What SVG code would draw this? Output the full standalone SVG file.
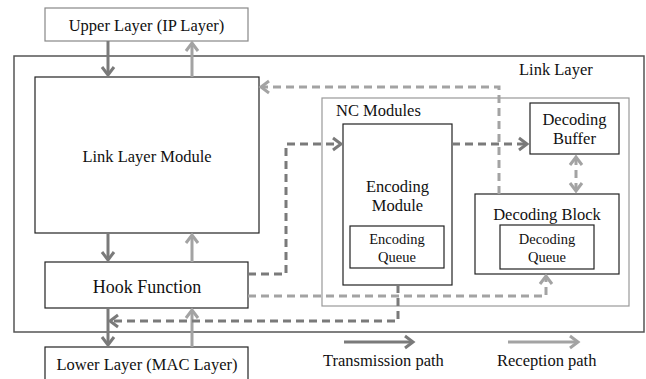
<svg xmlns="http://www.w3.org/2000/svg" width="646" height="379" viewBox="0 0 646 379" font-family="'Liberation Serif', 'DejaVu Serif', serif">
<defs>
<style>
text{fill:#111;}
.box{fill:#fff;stroke:#222;stroke-width:1.2;}
.t{stroke:#7a7a7a;stroke-width:3;fill:none;}
.r{stroke:#a3a3a3;stroke-width:3;fill:none;}
.d{stroke-dasharray:8,5;}
</style>
<marker id="at" markerUnits="userSpaceOnUse" markerWidth="16" markerHeight="16" viewBox="-10 -8 12 16" refX="0" refY="0" orient="auto-start-reverse">
<path d="M-8,-6 L0,0 L-8,6" fill="none" stroke="#7a7a7a" stroke-width="3"/>
</marker>
<marker id="ar" markerUnits="userSpaceOnUse" markerWidth="16" markerHeight="16" viewBox="-10 -8 12 16" refX="0" refY="0" orient="auto-start-reverse">
<path d="M-8,-6 L0,0 L-8,6" fill="none" stroke="#a3a3a3" stroke-width="3"/>
</marker>
</defs>
<rect width="646" height="379" fill="#fff"/>

<g id="link-layer">
<rect x="14" y="56" width="630" height="276" fill="#fff" stroke="#555" stroke-width="1.5"/>
<text x="519" y="75" font-size="16.5">Link Layer</text>
</g>
<g id="nc-modules">
<rect x="322" y="98" width="307" height="208" fill="none" stroke="#999" stroke-width="1.2"/>
<text x="336" y="116" font-size="16.5">NC Modules</text>
</g>
<g id="upper-layer">
<rect x="45" y="8" width="203" height="33" fill="#fff" stroke="#888" stroke-width="1.2"/>
<text x="146.5" y="31" font-size="16.5" text-anchor="middle">Upper Layer (IP Layer)</text>
</g>
<g id="link-layer-module">
<rect class="box" x="35" y="77" width="224" height="156"/>
<text x="147" y="162" font-size="16.5" text-anchor="middle">Link Layer Module</text>
</g>
<g id="hook-function">
<rect class="box" x="45" y="262" width="203" height="46"/>
<text x="147" y="293" font-size="18" text-anchor="middle">Hook Function</text>
</g>
<g id="lower-layer">
<rect class="box" x="45" y="347" width="203" height="34"/>
<text x="147" y="370" font-size="16.5" text-anchor="middle">Lower Layer (MAC Layer)</text>
</g>
<g id="encoding-module">
<rect class="box" x="343" y="124" width="109" height="161"/>
<text x="397.5" y="192" font-size="16.5" text-anchor="middle">Encoding</text>
<text x="397.5" y="211" font-size="16.5" text-anchor="middle">Module</text>
</g>
<g id="encoding-queue">
<rect class="box" x="350" y="226" width="94" height="42"/>
<text x="397" y="244" font-size="14.5" text-anchor="middle">Encoding</text>
<text x="397" y="262" font-size="14.5" text-anchor="middle">Queue</text>
</g>
<g id="decoding-buffer">
<rect class="box" x="530" y="103" width="89" height="51"/>
<text x="574.5" y="125" font-size="16.5" text-anchor="middle">Decoding</text>
<text x="574.5" y="144" font-size="16.5" text-anchor="middle">Buffer</text>
</g>
<g id="decoding-block">
<rect class="box" x="475" y="194" width="144" height="80"/>
<text x="547" y="220" font-size="16.5" text-anchor="middle">Decoding Block</text>
</g>
<g id="decoding-queue">
<rect class="box" x="500" y="225" width="94" height="44"/>
<text x="547" y="244" font-size="14.5" text-anchor="middle">Decoding</text>
<text x="547" y="262" font-size="14.5" text-anchor="middle">Queue</text>
</g>

<g id="connectors">
<path class="t" d="M108,41 V75" marker-end="url(#at)"/>
<path class="r" d="M192,77 V43" marker-end="url(#ar)"/>
<path class="t" d="M108,233 V260" marker-end="url(#at)"/>
<path class="r" d="M192,262 V235" marker-end="url(#ar)"/>
<path class="t" d="M108,308 V345" marker-end="url(#at)"/>
<path class="r" d="M192,347 V310" marker-end="url(#ar)"/>
<path class="t d" d="M248,274 H286 V144 H341" marker-end="url(#at)"/>
<path class="t d" d="M452,144 H527" marker-end="url(#at)"/>
<path class="t d" d="M398,285 V321 H110" marker-end="url(#at)"/>
<path class="r d" d="M248,296 H546 V276" marker-end="url(#ar)"/>
<path class="r d" d="M499,194 V87 H261" marker-end="url(#ar)"/>
<path class="r d" d="M576,157 V191" marker-start="url(#ar)" marker-end="url(#ar)"/>
<path class="t" d="M344,342 H413" marker-end="url(#at)"/>
<path class="r" d="M508,342 H578" marker-end="url(#ar)"/>
</g>
<g id="legend">
<text x="323" y="366" font-size="16.5">Transmission path</text>
<text x="497" y="366" font-size="16.5">Reception path</text>
</g>
</svg>
